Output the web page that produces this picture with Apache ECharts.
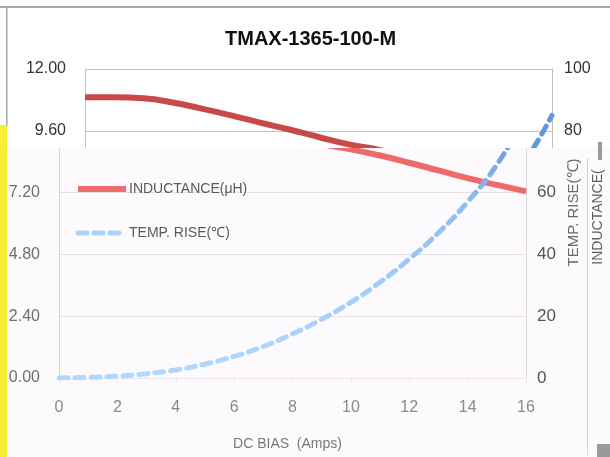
<!DOCTYPE html>
<html>
<head>
<meta charset="utf-8">
<script src="https://cdn.jsdelivr.net/npm/echarts@6/dist/echarts.min.js"></script>
<style>html,body{margin:0;padding:0;background:#fff}#c{width:610px;height:457px}</style>
</head>
<body>
<div id="c"></div>
<script>
// ---- data ----
const chartTitle = 'TMAX-1365-100-M';
const xValues = [0,1,2,3,4,5,6,7,8,9,10,11,12,13,14,15,16];
const inductance = [10.9,10.9,10.86,10.7,10.46,10.2,9.92,9.65,9.36,9.08,8.88,8.64,8.36,8.06,7.76,7.5,7.25];
const tempRise = [0,0.2,0.6,1.4,2.6,4.5,7,10.2,14.3,19,24.5,31,38.5,47,57,69,85];
const xTickLabels = ['0','2','4','6','8','10','12','14','16'];
const leftTickLabels = ['0.00','2.40','4.80','7.20','9.60','12.00'];
const rightTickLabels = ['0','20','40','60','80','100'];
const seriesNames = ['INDUCTANCE(μH)', 'TEMP. RISE(℃)'];
const xAxisName = 'DC BIAS  (Amps)';
const rightAxisName = 'TEMP. RISE(℃)';

const FONT = "'Liberation Sans',Arial,sans-serif";
const W = 610, H = 457, CUT = 148;
const pair = arr => xValues.map((x, i) => [x, arr[i]]);
const LG = echarts.graphic.LinearGradient;
const clipColor = (stops) => new LG(0, 0, 0, H, [
  {offset: 0, color: 'rgba(0,0,0,0)'},
  {offset: CUT / H - 0.001, color: 'rgba(0,0,0,0)'}
].concat(stops), true);

const chart = echarts.init(document.getElementById('c'), null, {renderer: 'canvas'});
chart.setOption({
  backgroundColor: '#ffffff',
  animation: false,
  title: {
    text: chartTitle, left: 225, top: 29, z: 10, padding: 0,
    textStyle: {fontFamily: FONT, fontSize: 20, fontWeight: 'bold', color: '#111'}
  },
  legend: {
    orient: 'vertical', left: 75, top: 182, z: 10, padding: 0,
    itemWidth: 48, itemHeight: 14, itemGap: 30,
    textStyle: {fontFamily: FONT, fontSize: 14, color: '#5a5a5a', padding: [0, 0, 0, -2]},
    data: [
      {name: seriesNames[0], itemStyle: {opacity: 0}, lineStyle: {color: '#ef6b6b', width: 6}},
      {name: seriesNames[1], itemStyle: {opacity: 0}, lineStyle: {color: '#a9d2fb', width: 5, type: [9, 7]}}
    ]
  },
  graphic: [
    {type: 'rect', z: 0, silent: true, shape: {x: 0, y: 6, width: W, height: 2}, style: {fill: '#a6a6a6'}},
    {type: 'rect', z: 0, silent: true, shape: {x: 6, y: 7, width: 1.5, height: 120}, style: {fill: '#a6a6a6'}},
    {type: 'rect', z: 3, silent: true, shape: {x: 7, y: CUT, width: W - 7, height: H - CUT}, style: {fill: '#fdfafd'}},
    {type: 'rect', z: 3, silent: true, shape: {x: 0, y: 125, width: 7, height: H - 125}, style: {fill: '#f6ef33'}},
    {type: 'rect', z: 3, silent: true, shape: {x: 587, y: 158, width: 1, height: 297}, style: {fill: '#d4d4d4'}},
    {type: 'rect', z: 3, silent: true, shape: {x: 598, y: 142, width: 4, height: 18}, style: {fill: '#9a9a9a'}},
    {type: 'rect', z: 3, silent: true, shape: {x: 597, y: 444, width: 13, height: 13}, style: {fill: '#9a9a9a'}},
    {type: 'text', z: 4, silent: true, x: 598, y: 217, rotation: Math.PI / 2,
      style: {text: 'INDUCTANCE(', fontFamily: FONT, fontSize: 14, fill: '#5f5f5f', align: 'center', verticalAlign: 'middle'}}
  ],
  grid: [
    {left: 85, right: 58, top: 69, bottom: 79, containLabel: false},
    {left: 59, right: 84, top: 69, bottom: 79, containLabel: false}
  ],
  xAxis: [
    {type: 'value', gridIndex: 0, min: 0, max: 16, interval: 2, show: false},
    {type: 'value', gridIndex: 1, min: 0, max: 16, interval: 2, z: 4,
      axisLine: {show: true, lineStyle: {color: '#efe4ec', width: 1}},
      axisTick: {show: true, length: 5, lineStyle: {color: '#efe4ec'}},
      splitLine: {show: false},
      axisLabel: {margin: 22, fontFamily: FONT, fontSize: 16, color: '#8a8a8a',
        formatter: v => xTickLabels[Math.round(v / 2)]},
      name: xAxisName, nameLocation: 'middle', nameGap: 59,
      nameTextStyle: {fontFamily: FONT, fontSize: 14, color: '#7a7a7a', padding: [0, 10, 0, 0]}
    }
  ],
  yAxis: [
    {type: 'value', gridIndex: 0, position: 'left', min: 0, max: 12, interval: 2.4, z: 1,
      axisLine: {show: true, lineStyle: {color: '#bfbfbf'}},
      axisTick: {show: false},
      splitLine: {show: true, lineStyle: {color: '#c4c4c4'}},
      axisLabel: {margin: 19, fontFamily: FONT, fontSize: 16, color: '#333',
        formatter: v => v > 9 ? leftTickLabels[Math.round(v / 2.4)] : ''}
    },
    {type: 'value', gridIndex: 0, position: 'right', min: 0, max: 100, interval: 20, z: 1,
      axisLine: {show: true, lineStyle: {color: '#bfbfbf'}},
      axisTick: {show: false},
      splitLine: {show: false},
      axisLabel: {margin: 12, fontFamily: FONT, fontSize: 16, color: '#333',
        formatter: v => v > 70 ? rightTickLabels[Math.round(v / 20)] : ''}
    },
    {type: 'value', gridIndex: 1, position: 'left', min: 0, max: 12, interval: 2.4, z: 4,
      axisLine: {show: true, lineStyle: {color: clipColor([{offset: CUT / H, color: '#dcd6dc'}, {offset: 1, color: '#dcd6dc'}])}},
      axisTick: {show: false},
      splitLine: {show: true, lineStyle: {color: ['#e6e0e6', '#e6e0e6', '#e6e0e6', '#e6e0e6', 'rgba(0,0,0,0)', 'rgba(0,0,0,0)']}},
      axisLabel: {margin: 19, fontFamily: FONT, fontSize: 16, color: '#6e6e6e',
        formatter: v => v < 9 ? leftTickLabels[Math.round(v / 2.4)] : ''}
    },
    {type: 'value', gridIndex: 1, position: 'right', min: 0, max: 100, interval: 20, z: 4,
      axisLine: {show: true, lineStyle: {color: clipColor([{offset: CUT / H, color: '#dcd6dc'}, {offset: 1, color: '#dcd6dc'}])}},
      axisTick: {show: false},
      splitLine: {show: false},
      axisLabel: {margin: 11, fontFamily: FONT, fontSize: 17, color: '#555',
        formatter: v => v < 70 ? rightTickLabels[Math.round(v / 20)] : ''},
      name: rightAxisName, nameLocation: 'middle', nameGap: 40, nameRotate: 90,
      nameTextStyle: {fontFamily: FONT, fontSize: 15, color: '#6a6a6a', padding: [0, 0, 0, 22]}
    }
  ],
  series: [
    {name: seriesNames[0], type: 'line', xAxisIndex: 1, yAxisIndex: 2, z: 5, smooth: true, symbol: 'none',
      data: pair(inductance), itemStyle: {color: '#ef6b6b'},
      lineStyle: {width: 6, color: clipColor([{offset: CUT / H, color: '#ee6a6a'}, {offset: 1, color: '#f07272'}])}},
    {name: seriesNames[1], type: 'line', xAxisIndex: 1, yAxisIndex: 3, z: 5, smooth: true, symbol: 'none',
      data: pair(tempRise), itemStyle: {color: '#a9d2fb'},
      lineStyle: {width: 5, type: [9, 7], cap: 'round',
        color: clipColor([{offset: CUT / H, color: '#6aa3e6'}, {offset: 200 / H, color: '#8bbcf3'}, {offset: 300 / H, color: '#a6cffb'}, {offset: 1, color: '#bde0fd'}])}},
    {name: seriesNames[0], type: 'line', xAxisIndex: 0, yAxisIndex: 0, z: 1, smooth: true, symbol: 'none',
      data: pair(inductance), itemStyle: {color: '#c94848'},
      lineStyle: {width: 6, color: '#c94848'}},
    {name: seriesNames[1], type: 'line', xAxisIndex: 0, yAxisIndex: 1, z: 1, smooth: true, symbol: 'none',
      data: pair(tempRise), itemStyle: {color: '#5e98dd'},
      lineStyle: {width: 5, type: [9, 7], cap: 'round', color: '#5e98dd'}}
  ]
});
</script>
</body>
</html>
